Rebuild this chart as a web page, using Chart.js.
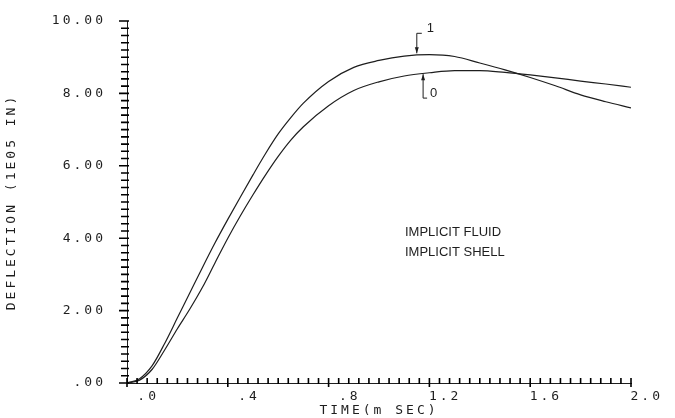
<!DOCTYPE html>
<html>
<head>
<meta charset="utf-8">
<script src="https://cdn.jsdelivr.net/npm/chart.js@4/dist/chart.umd.min.js"></script>
<style>
  html, body { margin: 0; padding: 0; background: #fff; }
  #wrap { width: 675px; height: 418px; }
</style>
</head>
<body>
<div id="wrap"><canvas id="chart1"></canvas></div>
<script>
// time axis (m SEC) shared by both curves
const timeMs = [0, 0.05, 0.1, 0.15, 0.2, 0.25, 0.3, 0.35, 0.4, 0.45, 0.5, 0.55, 0.6, 0.65, 0.7,
  0.8, 0.9, 1.0, 1.1, 1.2, 1.3, 1.4, 1.5, 1.6, 1.7, 1.8, 1.9, 2.0];
// curve "1"
const deflection1 = [0, 0.12, 0.48, 1.1, 1.8, 2.5, 3.2, 3.88, 4.52, 5.14, 5.75, 6.34, 6.88, 7.33, 7.73,
  8.33, 8.72, 8.91, 9.03, 9.07, 9.02, 8.84, 8.65, 8.44, 8.21, 7.96, 7.77, 7.6];
// curve "0"
const deflection0 = [0, 0.08, 0.38, 0.92, 1.5, 2.05, 2.65, 3.33, 4.0, 4.62, 5.2, 5.75, 6.26, 6.71, 7.08,
  7.66, 8.08, 8.32, 8.48, 8.57, 8.63, 8.63, 8.58, 8.51, 8.43, 8.34, 8.26, 8.17];

const xTickLabels = ['.0', '.4', '.8', '1.2', '1.6', '2.0'];
const yTickLabels = ['.00', '2.00', '4.00', '6.00', '8.00', '10.00'];
const noteLines = ['IMPLICIT FLUID', 'IMPLICIT SHELL'];

const ink = '#1e1e1e';
const plotFont = { family: "'DejaVu Sans Mono', monospace", size: 13 };

function pts(ys) {
  return timeMs.map((t, i) => ({ x: t, y: ys[i] }));
}

function majorIndex(v, step) {
  const k = v / step;
  return Math.abs(k - Math.round(k)) < 1e-6 ? Math.round(k) : -1;
}

// plotter-style wide lettering, tick marks, curve tags and the note text
const plotterPlugin = {
  id: 'plotter',
  beforeDraw(chart) {
    const ctx = chart.ctx;
    ctx.save();
    ctx.fillStyle = '#fff';
    ctx.fillRect(0, 0, chart.width, chart.height);
    ctx.restore();
    ctx.letterSpacing = '3px';
  },
  afterDraw(chart) {
    const { ctx, scales: { x, y } } = chart;
    ctx.save();
    ctx.letterSpacing = '0px';
    ctx.strokeStyle = '#000';
    ctx.fillStyle = ink;
    ctx.lineWidth = 1.6;

    // tick marks: every .2 on y, every .04 on x
    const ax = x.getPixelForValue(0);
    const ay = y.getPixelForValue(0);
    for (let i = 0; i <= 50; i++) {
      const major = i % 10 === 0;
      const ty = y.getPixelForValue(i * 0.2);
      const tx = x.getPixelForValue(i * 0.04);
      ctx.beginPath();
      ctx.moveTo(ax - (major ? 8 : 6), ty);
      ctx.lineTo(ax + 2, ty);
      ctx.moveTo(tx, ay - 5);
      ctx.lineTo(tx, ay + (major ? 4 : 1));
      ctx.stroke();
    }
    ctx.lineWidth = 1;
    ctx.strokeStyle = ink;

    ctx.font = "13px 'Liberation Sans', Arial, sans-serif";
    ctx.textBaseline = 'middle';

    // tag "1": leader up from the upper curve
    let px = x.getPixelForValue(1.15), py = y.getPixelForValue(9.08);
    let ey = y.getPixelForValue(9.66);
    ctx.beginPath();
    ctx.moveTo(px, py - 1); ctx.lineTo(px, ey); ctx.lineTo(px + 5, ey);
    ctx.stroke();
    ctx.beginPath();
    ctx.moveTo(px, py - 1); ctx.lineTo(px - 2, py - 7); ctx.lineTo(px + 2, py - 7); ctx.closePath();
    ctx.fill();
    ctx.fillText('1', px + 10, ey - 5);

    // tag "0": leader down from the lower curve
    px = x.getPixelForValue(1.175); py = y.getPixelForValue(8.56);
    ey = y.getPixelForValue(7.87);
    ctx.beginPath();
    ctx.moveTo(px, py + 1); ctx.lineTo(px, ey); ctx.lineTo(px + 4, ey);
    ctx.stroke();
    ctx.beginPath();
    ctx.moveTo(px, py + 1); ctx.lineTo(px - 2, py + 7); ctx.lineTo(px + 2, py + 7); ctx.closePath();
    ctx.fill();
    ctx.fillText('0', px + 7, ey - 5);

    // note
    ctx.textAlign = 'left';
    ctx.fillText(noteLines[0], x.getPixelForValue(1.103), y.getPixelForValue(4.17));
    ctx.fillText(noteLines[1], x.getPixelForValue(1.103), y.getPixelForValue(3.62));
    ctx.restore();
  }
};

const cht1 = document.getElementById('chart1');
new Chart(cht1, {
  type: 'line',
  data: {
    datasets: [
      { label: '1', data: pts(deflection1), borderColor: ink, borderWidth: 1.2, pointRadius: 0,
        cubicInterpolationMode: 'monotone', fill: false },
      { label: '0', data: pts(deflection0), borderColor: ink, borderWidth: 1.2, pointRadius: 0,
        cubicInterpolationMode: 'monotone', fill: false }
    ]
  },
  options: {
    responsive: true,
    maintainAspectRatio: false,
    animation: false,
    events: [],
    layout: { padding: { left: 0, right: 44, top: 21, bottom: 0 } },
    plugins: { legend: { display: false }, tooltip: { enabled: false } },
    scales: {
      x: {
        type: 'linear',
        min: 0,
        max: 2,
        border: { display: true, color: ink, width: 1 },
        grid: { drawOnChartArea: false, drawTicks: false },
        ticks: {
          stepSize: 0.4,
          autoSkip: false,
          maxRotation: 0,
          align: 'end',
          labelOffset: 32,
          padding: 6,
          color: ink,
          font: plotFont,
          callback: (v) => {
            const k = majorIndex(v, 0.4);
            return k >= 0 ? xTickLabels[k] : '';
          }
        },
        title: { display: true, text: 'TIME(m SEC)', color: ink, font: plotFont, padding: { top: 0, bottom: 0 } },
        afterFit: (s) => { s.height = 35; s.paddingLeft = 0; s.paddingRight = 0; }
      },
      y: {
        min: 0,
        max: 10,
        border: { display: true, color: ink, width: 1 },
        grid: { drawOnChartArea: false, drawTicks: false },
        ticks: {
          stepSize: 2,
          autoSkip: false,
          padding: 21,
          color: ink,
          font: plotFont,
          callback: (v) => {
            const k = majorIndex(v, 2);
            return k >= 0 ? yTickLabels[k] : '';
          }
        },
        title: { display: true, text: 'DEFLECTION (1E05 IN)', color: ink, font: plotFont, padding: { top: 4, bottom: 0 } },
        afterFit: (s) => { s.width = 127; s.paddingTop = 0; s.paddingBottom = 0; }
      }
    }
  },
  plugins: [plotterPlugin]
});
</script>
</body>
</html>
